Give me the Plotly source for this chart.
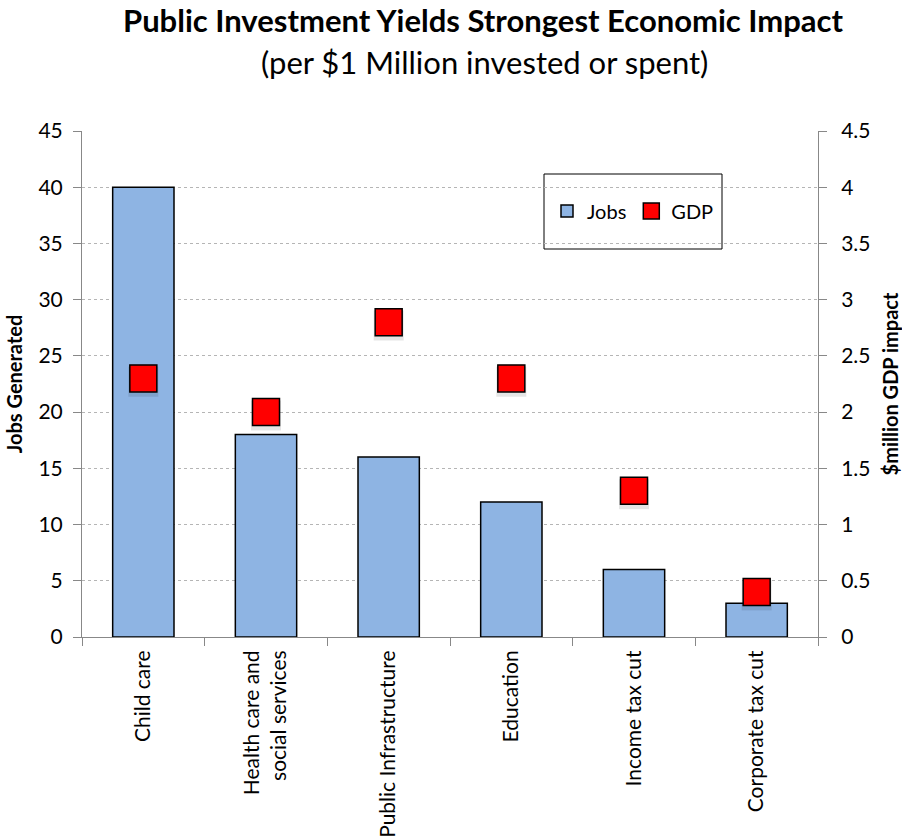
import plotly.graph_objects as go

categories = ["Child care", "Health care and<br>social services", "Public Infrastructure",
              "Education", "Income tax cut", "Corporate tax cut"]
jobs = [40, 18, 16, 12, 6, 3]
gdp = [2.3, 2.0, 2.8, 2.3, 1.3, 0.4]
jobs_ticks = [0, 5, 10, 15, 20, 25, 30, 35, 40, 45]
gdp_ticks = [0, 0.5, 1, 1.5, 2, 2.5, 3, 3.5, 4, 4.5]

FONT = "Lato, Open Sans, sans-serif"
W, H = 902, 838
L, R, T, B = 82, 818, 131, 637


def py(pixel_y):
    """Convert a pixel row to paper y coordinate."""
    return 1 - (pixel_y - T) / (B - T)


def px(pixel_x):
    return (pixel_x - L) / (R - L)


fig = go.Figure()
fig.add_trace(go.Bar(
    x=categories, y=jobs, name="Jobs",
    marker=dict(color="#8EB4E3", line=dict(color="black", width=1.5)),
    width=0.5,
))
# soft drop shadow under the GDP squares
fig.add_trace(go.Scatter(
    x=categories, y=[v - 0.03 for v in gdp], yaxis="y2", mode="markers",
    marker=dict(symbol="square", size=30, color="rgba(0,0,0,0.10)", line=dict(width=0)),
    showlegend=False, hoverinfo="skip",
))
fig.add_trace(go.Scatter(
    x=categories, y=gdp, name="GDP", yaxis="y2", mode="markers",
    marker=dict(symbol="square", size=27, color="#FF0000", line=dict(color="black", width=1.5)),
))

fig.add_shape(type="rect", xref="paper", yref="paper",
              x0=px(544), x1=px(722), y0=py(249), y1=py(174),
              line=dict(color="black", width=1), fillcolor="white", layer="below")

fig.add_annotation(text="<b>Public Investment Yields Strongest Economic Impact</b>",
                   xref="paper", yref="paper", x=px(483), y=py(20),
                   xanchor="center", yanchor="middle", showarrow=False,
                   font=dict(family=FONT, size=31, color="black"))
fig.add_annotation(text="(per $1 Million invested or spent)",
                   xref="paper", yref="paper", x=px(484), y=py(62),
                   xanchor="center", yanchor="middle", showarrow=False,
                   font=dict(family=FONT, size=31, color="black"))

fig.update_layout(
    width=W, height=H,
    margin=dict(l=L, r=W - R, t=T, b=H - B),
    paper_bgcolor="white", plot_bgcolor="white",
    font=dict(family=FONT, size=21, color="black"),
    bargap=0.5,
    showlegend=True,
    legend=dict(orientation="h", x=px(633), xanchor="center",
                y=py(211), yanchor="middle",
                bgcolor="rgba(0,0,0,0)", font=dict(size=20), itemwidth=30),
    xaxis=dict(
        tickangle=-90, showline=True, linecolor="#888", linewidth=1,
        ticks="outside", tickcolor="#888", ticklen=8, tickson="boundaries",
        showgrid=False, tickfont=dict(size=21), range=[-0.5, 5.5],
        automargin=False, ticklabelstandoff=4,
    ),
    yaxis=dict(
        range=[0, 45], tickvals=jobs_ticks, showline=True, linecolor="#888",
        ticks="outside", tickcolor="#888", ticklen=8, showgrid=True,
        gridcolor="#b5b5b5", griddash="dot", gridwidth=1, zeroline=False,
        title=dict(text="<b>Jobs Generated</b>", font=dict(size=20), standoff=10),
        tickfont=dict(size=21), automargin=False, ticklabelstandoff=6,
    ),
    yaxis2=dict(
        range=[0, 4.5], tickvals=gdp_ticks, overlaying="y", side="right",
        showline=True, linecolor="#888", ticks="outside", tickcolor="#888",
        ticklen=8, showgrid=False, zeroline=False,
        title=dict(text="<b>$million GDP impact</b>", font=dict(size=20), standoff=14),
        tickfont=dict(size=21), automargin=False, ticklabelstandoff=10,
    ),
)

fig.write_html("out.html")
